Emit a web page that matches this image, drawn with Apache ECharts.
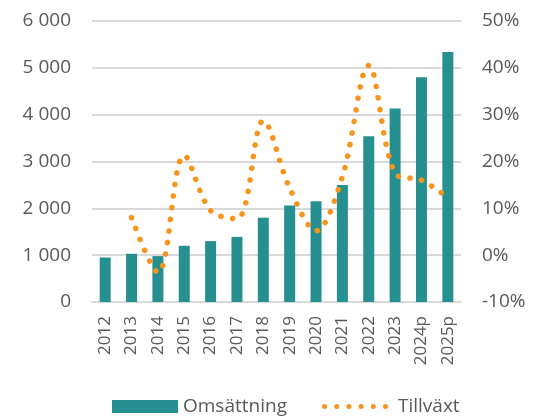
<!DOCTYPE html>
<html>
<head>
<meta charset="utf-8">
<script src="https://cdn.jsdelivr.net/npm/echarts@6/dist/echarts.min.js"></script>
<style>
html, body { margin: 0; padding: 0; background: #fff; }
#main { width: 544px; height: 417px; }
</style>
</head>
<body>
<div id="main"></div>
<script>
var chart = echarts.init(document.getElementById('main'));

var years = ['2012', '2013', '2014', '2015', '2016', '2017', '2018', '2019', '2020', '2021', '2022', '2023', '2024p', '2025p'];
var omsattning = [950, 1030, 980, 1200, 1300, 1390, 1800, 2060, 2150, 2500, 3540, 4130, 4800, 5340];
var tillvaxt = [null, 8.0, -3.7, 21.3, 9.5, 7.8, 28.7, 14.3, 5.2, 16.8, 40.5, 17.5, 16.0, 12.3];

var textColor = '#595959';
var font = '"Open Sans", "Noto Sans", sans-serif';

// rad av prickar för legenden (66 x 5)
var dotsIcon = 'path://M2.5,0A2.5,2.5 0 1,1 2.5,5A2.5,2.5 0 1,1 2.5,0Z' +
    'M14.7,0A2.5,2.5 0 1,1 14.7,5A2.5,2.5 0 1,1 14.7,0Z' +
    'M26.9,0A2.5,2.5 0 1,1 26.9,5A2.5,2.5 0 1,1 26.9,0Z' +
    'M39.1,0A2.5,2.5 0 1,1 39.1,5A2.5,2.5 0 1,1 39.1,0Z' +
    'M51.3,0A2.5,2.5 0 1,1 51.3,5A2.5,2.5 0 1,1 51.3,0Z' +
    'M63.5,0A2.5,2.5 0 1,1 63.5,5A2.5,2.5 0 1,1 63.5,0Z';

var option = {
    animation: false,
    textStyle: { fontFamily: font },
    grid: {
        left: 92,
        right: 83,
        top: 21,
        bottom: 115
    },
    legend: [
        {
            left: 107,
            top: 392,
            itemWidth: 66,
            itemHeight: 13,
            itemGap: 5,
            textStyle: { color: textColor, fontSize: 19, fontFamily: font },
            data: [{ name: 'Omsättning', icon: 'rect' }]
        },
        {
            left: 317,
            top: 392,
            itemWidth: 66,
            itemHeight: 5,
            textStyle: { color: textColor, fontSize: 19, fontFamily: font, padding: [0, 0, 0, 5] },
            data: [{ name: 'Tillväxt', icon: dotsIcon }]
        }
    ],
    xAxis: {
        type: 'category',
        data: years,
        axisTick: { show: false },
        axisLine: { lineStyle: { color: '#d9d9d9', width: 2 } },
        axisLabel: {
            rotate: 90,
            color: textColor,
            fontSize: 17,
            margin: 14
        }
    },
    yAxis: [
        {
            type: 'value',
            min: 0,
            max: 6000,
            interval: 1000,
            axisLine: { show: false },
            axisTick: { show: false },
            splitLine: { lineStyle: { color: '#d9d9d9', width: 2 } },
            axisLabel: {
                color: textColor,
                fontSize: 19,
                margin: 21,
                formatter: function (v) {
                    return String(v).replace(/\B(?=(\d{3})+(?!\d))/g, ' ');
                }
            }
        },
        {
            type: 'value',
            min: -10,
            max: 50,
            interval: 10,
            axisLine: { show: false },
            axisTick: { show: false },
            splitLine: { show: false },
            axisLabel: {
                color: textColor,
                fontSize: 19,
                margin: 21,
                formatter: '{value}%'
            }
        }
    ],
    series: [
        {
            name: 'Omsättning',
            type: 'bar',
            barWidth: 11,
            data: omsattning,
            itemStyle: { color: '#268f90' }
        },
        {
            name: 'Tillväxt',
            type: 'line',
            yAxisIndex: 1,
            data: tillvaxt,
            smooth: 0.35,
            symbol: 'none',
            itemStyle: { color: '#f7941d' },
            lineStyle: {
                color: '#f7941d',
                width: 5.5,
                type: [0.1, 11.6],
                cap: 'round'
            }
        }
    ]
};

chart.setOption(option);
</script>
</body>
</html>
